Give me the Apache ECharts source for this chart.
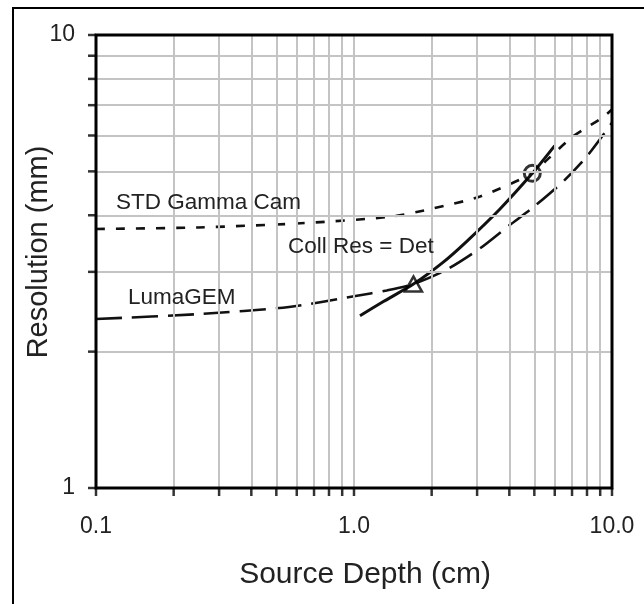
<!DOCTYPE html>
<html>
<head>
<meta charset="utf-8">
<script src="https://cdn.jsdelivr.net/npm/echarts@6/dist/echarts.min.js"></script>
<style>
  html, body { margin: 0; padding: 0; background: #fff; }
  #main { width: 644px; height: 604px; }
</style>
</head>
<body>
<div id="main"></div>
<script>
// values (x = source depth cm, y = resolution mm)
var stdX = [0.1, 0.25, 0.62, 1.38, 2.02, 3.08, 4.91, 5.6, 7.06, 9.14, 10];
var stdY = [3.73, 3.76, 3.84, 3.97, 4.14, 4.40, 4.95, 5.30, 5.97, 6.56, 6.85];

var lumaX = [0.1, 0.25, 0.56, 1.0, 1.34, 1.70, 2.3, 3.08, 4.0, 4.91, 6.47, 7.98, 10];
var lumaY = [2.36, 2.42, 2.51, 2.65, 2.73, 2.82, 3.04, 3.38, 3.80, 4.15, 4.75, 5.39, 6.4];

var collX = [1.055, 1.30, 1.70, 2.2, 2.73, 3.68, 4.91, 6.0];
var collY = [2.40, 2.58, 2.82, 3.14, 3.50, 4.13, 4.95, 5.70];

var circlePt = [4.91, 4.95];
var trianglePt = [1.70, 2.82];

var xTickLabels = ['0.1', '1.0', '10.0'];
var yTickLabels = ['1', '10'];
var xGridVals = [0.2, 0.3, 0.4, 0.5, 0.6, 0.7, 0.8, 0.9, 1, 2, 3, 4, 5, 6, 7, 8, 9];
var yGridVals = [2, 3, 4, 5, 6, 7, 8, 9];
var xTickVals = [0.1].concat(xGridVals, [10]);
var yTickVals = [1].concat(yGridVals, [10]);

var FONT = 'Liberation Sans, Arial, sans-serif';

function pairs(xs, ys) {
    return xs.map(function (x, i) { return [x, ys[i]]; });
}

var chart = echarts.init(document.getElementById('main'));

var option = {
    animation: false,
    backgroundColor: '#fff',
    grid: {left: 96, top: 35, right: 32, bottom: 116, show: false},
    xAxis: {
        type: 'log', logBase: 10, min: 0.1, max: 10,
        axisLine: {show: false},
        axisTick: {show: false},
        splitLine: {show: false},
        axisLabel: {
            fontFamily: FONT, fontSize: 23, color: '#222', margin: 27,
            formatter: function (v, i) { return xTickLabels[i]; }
        }
    },
    yAxis: {
        type: 'log', logBase: 10, min: 1, max: 10,
        axisLine: {show: false},
        axisTick: {show: false},
        splitLine: {show: false},
        axisLabel: {
            fontFamily: FONT, fontSize: 23, color: '#222', margin: 21,
            formatter: function (v, i) { return yTickLabels[i]; }
        }
    },
    graphic: [
        {type: 'rect', z: 0, shape: {x: 13, y: 8, width: 700, height: 700},
         style: {fill: 'none', stroke: '#000', lineWidth: 2}},
        {type: 'rect', z: 100, shape: {x: 96, y: 35, width: 516, height: 453},
         style: {fill: 'none', stroke: '#000', lineWidth: 3}},
        {type: 'text', z: 50, x: 116, y: 203,
         style: {text: 'STD Gamma Cam', font: '22.5px ' + FONT, fill: '#222', verticalAlign: 'middle'}},
        {type: 'text', z: 50, x: 288, y: 247,
         style: {text: 'Coll Res = Det', font: '22.5px ' + FONT, fill: '#222', verticalAlign: 'middle'}},
        {type: 'text', z: 50, x: 128, y: 298,
         style: {text: 'LumaGEM', font: '22.5px ' + FONT, fill: '#222', verticalAlign: 'middle'}},
        {type: 'text', z: 50, x: 365, y: 575,
         style: {text: 'Source Depth (cm)', font: '30px ' + FONT, fill: '#222', align: 'center', verticalAlign: 'middle'}},
        {type: 'text', z: 50, x: 39, y: 252, rotation: Math.PI / 2,
         style: {text: 'Resolution (mm)', font: '29px ' + FONT, fill: '#222', align: 'center', verticalAlign: 'middle'}}
    ],
    series: [
        {
            // grid lines
            type: 'line', data: [], z: 1, silent: true,
            markLine: {
                silent: true, symbol: 'none', label: {show: false},
                lineStyle: {type: 'solid', color: '#c4c4c4', width: 2},
                data: xGridVals.map(function (v) { return {xAxis: v}; })
                    .concat(yGridVals.map(function (v) { return {yAxis: v}; }))
            }
        },
        {
            // x ticks
            type: 'scatter', clip: false, silent: true, z: 5,
            symbol: 'rect', symbolSize: [2.5, 8], symbolOffset: [0, 4],
            itemStyle: {color: '#000'},
            data: xTickVals.map(function (v) { return [v, 1]; })
        },
        {
            // y ticks
            type: 'scatter', clip: false, silent: true, z: 5,
            symbol: 'rect', symbolSize: [8, 2.5], symbolOffset: [-4, 0],
            itemStyle: {color: '#000'},
            data: yTickVals.map(function (v) { return [0.1, v]; })
        },
        {
            name: 'STD Gamma Cam', type: 'line', smooth: 0.25, showSymbol: false, z: 3,
            lineStyle: {color: '#111', width: 2.6, type: [9, 11]},
            data: pairs(stdX, stdY)
        },
        {
            name: 'LumaGEM', type: 'line', smooth: 0.25, showSymbol: false, z: 3,
            lineStyle: {color: '#111', width: 2.6, type: [26, 10]},
            data: pairs(lumaX, lumaY)
        },
        {
            name: 'Coll Res = Det', type: 'line', smooth: 0.25, showSymbol: false, z: 3,
            lineStyle: {color: '#111', width: 3},
            data: pairs(collX, collY)
        },
        {
            type: 'scatter', z: 4, symbol: 'circle', symbolSize: 16,
            itemStyle: {color: 'rgba(0,0,0,0)', borderColor: '#000', borderWidth: 3},
            data: [circlePt]
        },
        {
            type: 'scatter', z: 4, symbol: 'triangle', symbolSize: [17, 15],
            itemStyle: {color: 'rgba(0,0,0,0)', borderColor: '#000', borderWidth: 2.5},
            data: [trianglePt]
        }
    ]
};

chart.setOption(option);
</script>
</body>
</html>
